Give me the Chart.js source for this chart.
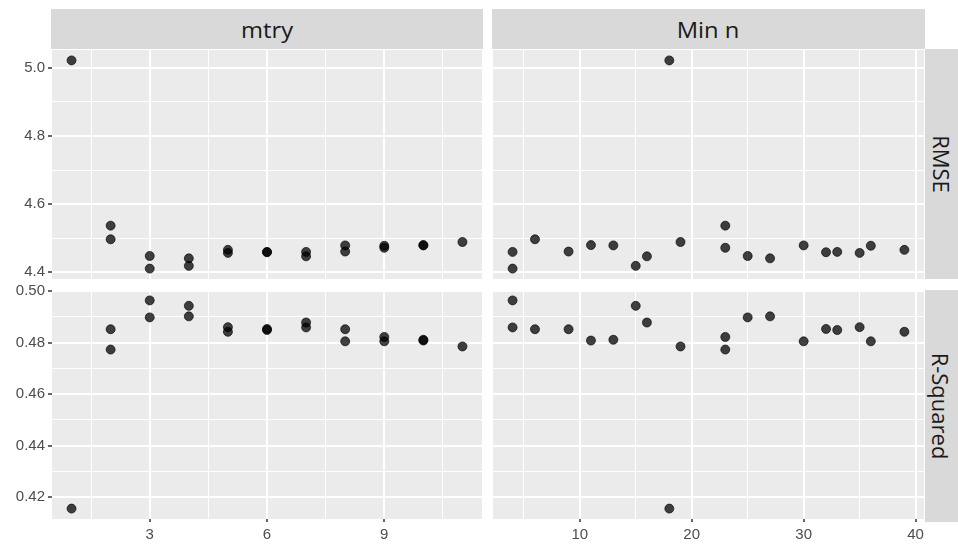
<!DOCTYPE html>
<html>
<head>
<meta charset="utf-8">
<script src="https://cdn.jsdelivr.net/npm/chart.js@4/dist/chart.umd.min.js"></script>
<style>
    body { margin: 0; background: #ffffff; width: 958px; height: 545px; position: relative; overflow: hidden; }
    canvas { position: absolute; }
    .strip { position: absolute; background: #d9d9d9; color: #1a1a1a; font-family: "Open Sans", "Noto Sans", sans-serif; font-size: 22px; display: flex; align-items: center; justify-content: center; }
    .strip span { display: inline-block; white-space: nowrap; }
    .top span { transform: scaleX(1.08); }
    .side span { transform: rotate(90deg); }
</style>
</head>
<body>
<div class="strip top" style="left:51px;top:9px;width:432px;height:40px;"><span>mtry</span></div>
<div class="strip top" style="left:492px;top:9px;width:433px;height:40px;"><span>Min n</span></div>
<div class="strip side" style="left:925px;top:49px;width:33px;height:230px;"><span>RMSE</span></div>
<div class="strip side" style="left:925px;top:290px;width:33px;height:232px;"><span>R-Squared</span></div>

<canvas id="tl" width="482" height="229" style="left:0px;top:50px;"></canvas>
<canvas id="tr" width="431" height="229" style="left:493px;top:50px;"></canvas>
<canvas id="bl" width="482" height="265" style="left:0px;top:280px;"></canvas>
<canvas id="br" width="431" height="265" style="left:493px;top:280px;"></canvas>

<script>
// one row per tuning candidate
var mtry = [1, 2, 2, 3, 3, 4, 4, 5, 5, 6, 6, 7, 7, 8, 8, 9, 9, 10, 10, 11];
var minN = [18, 23, 6, 4, 25, 15, 27, 39, 35, 32, 33, 16, 4, 9, 30, 23, 36, 11, 13, 19];
var rmse = [5.022, 4.537, 4.497, 4.411, 4.448, 4.419, 4.441, 4.466, 4.457, 4.459,
            4.460, 4.447, 4.460, 4.461, 4.479, 4.472, 4.478, 4.480, 4.479, 4.489];
var rsq = [0.4155, 0.4773, 0.4852, 0.4964, 0.4898, 0.4943, 0.4902, 0.4842, 0.4860, 0.4853,
           0.4849, 0.4878, 0.4859, 0.4852, 0.4805, 0.4822, 0.4805, 0.4808, 0.4811, 0.4785];

var mtryTicks = [3, 6, 9];
var mtryMinor = [1.5, 4.5, 7.5, 10.5];
var minNTicks = [10, 20, 30, 40];
var minNMinor = [5, 15, 25, 35];
var rmseTicks = [4.4, 4.6, 4.8, 5.0];
var rmseMinor = [4.5, 4.7, 4.9];
var rsqTicks = [0.42, 0.44, 0.46, 0.48, 0.50];
var rsqMinor = [0.41, 0.43, 0.45, 0.47, 0.49];

// ggplot style 5% expansion
function range(values) {
    var lo = Math.min.apply(null, values);
    var hi = Math.max.apply(null, values);
    var pad = (hi - lo) * 0.05;
    return [lo - pad, hi + pad];
}

function toPoints(xs, ys) {
    var pts = [];
    for (var i = 0; i < xs.length; i++) {
        pts.push({x: xs[i], y: ys[i]});
    }
    return pts;
}

var panelBg = {
    id: 'panelBg',
    beforeDraw: function(chart) {
        var a = chart.chartArea;
        var ctx = chart.ctx;
        ctx.save();
        ctx.fillStyle = '#ebebeb';
        ctx.fillRect(a.left, a.top, a.right - a.left, a.bottom - a.top);
        ctx.restore();
    }
};

function makeAxis(majors, minors, lim, showLabels, digits, size, isX) {
    var all = majors.concat(minors).sort(function(a, b) { return a - b; });
    return {
        type: 'linear',
        position: isX ? 'bottom' : 'left',
        min: lim[0],
        max: lim[1],
        afterBuildTicks: function(axis) {
            axis.ticks = all.map(function(v) { return {value: v}; });
        },
        afterFit: function(axis) {
            if (isX) { axis.height = size; } else { axis.width = size; }
            // no room for half labels at the ends, ggplot lets them hang out
            axis.paddingTop = 0;
            axis.paddingBottom = 0;
            axis.paddingLeft = 0;
            axis.paddingRight = 0;
        },
        border: {display: false},
        grid: {
            color: '#ffffff',
            lineWidth: function(c) { return majors.indexOf(c.tick.value) > -1 ? 2 : 1; },
            drawTicks: showLabels,
            tickLength: 4,
            tickWidth: 1.5,
            tickColor: function(c) { return majors.indexOf(c.tick.value) > -1 ? '#333333' : 'rgba(0,0,0,0)'; }
        },
        ticks: {
            display: showLabels,
            autoSkip: false,
            maxRotation: 0,
            padding: 3,
            color: '#4d4d4d',
            font: {family: '"Liberation Sans", Arial, sans-serif', size: 15},
            callback: function(value) {
                if (majors.indexOf(value) === -1) return '';
                return digits === 0 ? String(value) : value.toFixed(digits);
            }
        }
    };
}

function makePanel(id, xs, ys, xAxis, yAxis, padTop) {
    var ctx = document.getElementById(id).getContext('2d');
    return new Chart(ctx, {
        type: 'scatter',
        data: {
            datasets: [{
                data: toPoints(xs, ys),
                pointRadius: 4.5,
                pointBackgroundColor: 'rgba(0,0,0,0.74)',
                pointBorderColor: 'rgba(0,0,0,0.8)',
                pointBorderWidth: 0.8
            }]
        },
        options: {
            responsive: false,
            animation: false,
            devicePixelRatio: 1,
            layout: {padding: {top: padTop, left: 0, right: 0, bottom: 0}, autoPadding: false},
            plugins: {legend: {display: false}, tooltip: {enabled: false}},
            scales: {x: xAxis, y: yAxis}
        },
        plugins: [panelBg]
    });
}

var mtryLim = range(mtry);
var minNLim = range(minN);
var rmseLim = range(rmse);
var rsqLim = range(rsq);

makePanel('tl', mtry, rmse,
    makeAxis(mtryTicks, mtryMinor, mtryLim, false, 0, 0, true),
    makeAxis(rmseTicks, rmseMinor, rmseLim, true, 1, 52, false), 0);
makePanel('tr', minN, rmse,
    makeAxis(minNTicks, minNMinor, minNLim, false, 0, 0, true),
    makeAxis(rmseTicks, rmseMinor, rmseLim, false, 1, 0, false), 0);
makePanel('bl', mtry, rsq,
    makeAxis(mtryTicks, mtryMinor, mtryLim, true, 0, 26, true),
    makeAxis(rsqTicks, rsqMinor, rsqLim, true, 2, 52, false), 10);
makePanel('br', minN, rsq,
    makeAxis(minNTicks, minNMinor, minNLim, true, 0, 26, true),
    makeAxis(rsqTicks, rsqMinor, rsqLim, false, 2, 0, false), 10);
</script>
</body>
</html>
